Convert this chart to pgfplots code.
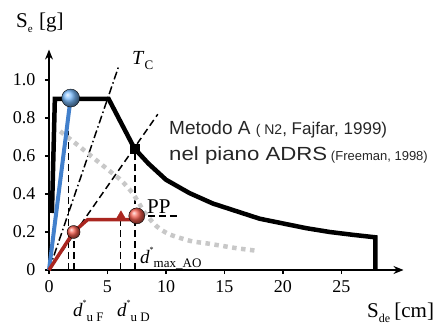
\documentclass[border=0pt]{standalone}
\usepackage{fontspec}
\setmainfont{Liberation Serif}
\newfontfamily\arial{Liberation Sans}
\usepackage{pgfplots}
\pgfplotsset{compat=1.18}
\usetikzlibrary{arrows.meta}
\definecolor{spblue}{RGB}{66,128,204}
\definecolor{ballblue}{RGB}{120,185,250}
\definecolor{spred}{RGB}{170,38,32}
\definecolor{ballred}{RGB}{245,95,80}
\definecolor{spgrey}{RGB}{200,200,200}
\begin{document}
\begin{tikzpicture}
\begin{axis}[
  at={(0,0)}, anchor=south west,
  scale only axis, width=354.5pt, height=220.4pt,
  xmin=0, xmax=30.3, ymin=0, ymax=1.16,
  axis lines=left,
  axis line style={line width=1.3pt, -{Stealth[length=10pt,width=8pt]}},
  xtick={0,5,10,15,20,25}, ytick={0,0.2,0.4,0.6,0.8,1.0},
  xticklabels={0,5,10,15,20,25},
  yticklabels={0,0.2,0.4,0.6,0.8,1.0},
  tick align=outside, major tick length=4pt,
  tick style={line width=1.2pt, black},
  ticklabel style={font=\fontsize{18}{18}\selectfont},
  yticklabel style={xshift=-6pt},
  xticklabel style={yshift=-3pt},
  clip=false,
]
% T_C dash-dot line
\addplot[black, line width=1.5pt, dash pattern=on 8pt off 3pt on 1.5pt off 3pt] coordinates {(0,0) (6,1.08)};
% dashed diagonal
\addplot[black, line width=1.5pt, dash pattern=on 7pt off 4pt] coordinates {(0,0) (9.3,0.82)};
% vertical dashed lines
\addplot[black, line width=1.5pt, dash pattern=on 7pt off 4pt] coordinates {(1.65,0) (1.65,0.78)};
\addplot[black, line width=1.5pt, dash pattern=on 7pt off 4pt] coordinates {(2.15,0) (2.15,0.2)};
\addplot[black, line width=1.5pt, dash pattern=on 7pt off 4pt] coordinates {(6.1,0) (6.1,0.28)};
\addplot[black, line width=1.5pt, dash pattern=on 7pt off 4pt] coordinates {(7.35,0) (7.35,0.64)};
\addplot[black, line width=1.5pt, dash pattern=on 7pt off 4pt] coordinates {(7.5,0.285) (11.2,0.285)};
% grey dotted reduced spectrum
\addplot[spgrey, line width=4.5pt, dash pattern=on 4.5pt off 4.5pt, smooth, tension=0.4] coordinates {
 (0.95,0.73) (2.2,0.67) (3.8,0.59) (5.4,0.51) (6.2,0.47) (7.2,0.40) (8.2,0.30) (9.2,0.23) (10.2,0.19) (11.4,0.165) (12.3,0.15) (13.5,0.14) (14.5,0.13) (16,0.115) (17.9,0.1)};
% black elastic spectrum
\addplot[black, line width=4.5pt, line join=miter] coordinates {
 (0.25,0.3) (0.5,0.9) (5.1,0.9) (7.3,0.64) (8.5,0.56) (10,0.475) (12,0.405) (14,0.35) (16,0.31) (18,0.27) (20,0.245) (22,0.22) (24,0.2) (26,0.185) (27.9,0.172) (27.9,0)};
% blue line
\addplot[spblue, line width=4pt] coordinates {(0,0) (1.85,0.905)};
% red capacity curve
\addplot[spred, line width=3.5pt, line join=round] coordinates {(0,0) (2.1,0.2) (3.3,0.265) (7.5,0.265)};
% markers
\addplot[only marks, mark=square*, mark size=4.5pt, black] coordinates {(7.3,0.64)};
\addplot[only marks, mark=ball, mark size=9pt, mark options={ball color=ballblue}] coordinates {(1.85,0.905)};
\addplot[only marks, mark=ball, mark size=6.5pt, mark options={ball color=ballred}] coordinates {(2.1,0.2)};
\addplot[only marks, mark=triangle*, mark size=6pt, spred] coordinates {(6.15,0.28)};
\addplot[only marks, mark=ball, mark size=8pt, mark options={ball color=ballred}] coordinates {(7.5,0.285)};
\end{axis}
\node[anchor=base west, font=\fontsize{21}{21}\selectfont, inner sep=0pt] at (-33pt,242pt) {S\raisebox{-0.2em}{\fontsize{11}{11}\selectfont e}\hspace{0.3em}[g]};
\node[anchor=base west, font=\fontsize{21}{21}\selectfont, inner sep=0pt] at (318pt,-47pt) {S\raisebox{-0.25em}{\fontsize{12}{12}\selectfont de}\hspace{0.2em}[cm]};
\node[anchor=base west, font=\fontsize{20}{20}\selectfont, inner sep=0pt] at (83pt,205pt) {\textit{T}\raisebox{-0.25em}{\fontsize{13}{13}\selectfont C}};
\node[anchor=base west, font=\fontsize{21}{21}\selectfont, inner sep=0pt] at (98pt,57pt) {PP};
\node[anchor=base west, font=\fontsize{19}{19}\selectfont, inner sep=0pt] at (91pt,7pt) {\textit{d}\raisebox{0.55em}{\fontsize{8}{8}\selectfont *}\raisebox{-0.25em}{\fontsize{13}{13}\selectfont max\_AO}};
\node[anchor=base west, font=\fontsize{19}{19}\selectfont, inner sep=0pt] at (24pt,-46pt) {\textit{d}\raisebox{0.55em}{\fontsize{8}{8}\selectfont *}\raisebox{-0.3em}{\fontsize{13}{13}\selectfont u F}};
\node[anchor=base west, font=\fontsize{19}{19}\selectfont, inner sep=0pt] at (68pt,-46pt) {\textit{d}\raisebox{0.55em}{\fontsize{8}{8}\selectfont *}\raisebox{-0.3em}{\fontsize{13}{13}\selectfont u D}};
\node[anchor=base west, inner sep=0pt, text=black!85] at (120pt,135pt) {\arial\fontsize{19}{19}\selectfont Metodo A {\fontsize{14}{14}\selectfont ( N2}{\fontsize{17}{17}\selectfont , Fajfar, 1999)}};
\node[anchor=base west, inner sep=0pt, text=black!85] at (120pt,110pt) {\arial\fontsize{13}{13}\selectfont\scalebox{1.17}[1]{\fontsize{19}{19}\selectfont nel piano ADRS}\ (Freeman, 1998)};
\pgfresetboundingbox
\path[use as bounding box] (-49pt,-54pt) rectangle (394pt,270pt);
\end{tikzpicture}
\end{document}
